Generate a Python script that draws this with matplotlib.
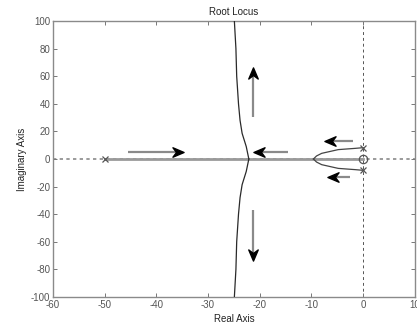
import numpy as np
import matplotlib
matplotlib.use("Agg")
import matplotlib.pyplot as plt
from matplotlib.markers import MarkerStyle
from matplotlib.path import Path
from matplotlib.transforms import Affine2D

plt.rcParams['font.family'] = ['Liberation Sans', 'DejaVu Sans']

# ---- data ----
poles_re = [-50.0, 0.0, 0.0]
poles_im = [0.0, 8.2, -8.2]
zeros_re = [0.0]
zeros_im = [0.0]

# breakaway branch (upper half), mirrored for lower half
branch_re = [-22.1, -22.6, -23.4, -23.8, -24.1, -24.45, -24.6, -24.75, -24.9]
branch_im = [0.0, 9.0, 18.6, 28.0, 40.0, 60.0, 80.0, 90.0, 100.0]

# loop from complex poles to real axis (upper half)
loop_re = [0.0, -1.55, -4.8, -8.0, -9.0, -9.6]
loop_im = [8.2, 7.7, 6.8, 4.1, 2.2, 0.0]

# real-axis locus segment
real_seg = [-50.0, 0.0]

# arrows: (tail_x, tail_y, head_x, head_y)
arrows = [
    (-21.3, 30.7, -21.3, 62.0),
    (-21.2, -37.0, -21.2, -69.6),
    (-45.4, 4.9, -35.7, 4.9),
    (-14.6, 5.0, -20.1, 5.0),
    (-2.0, 13.3, -6.4, 13.3),
    (-2.5, -12.8, -5.75, -12.8),
]

xlim = (-60, 10)
ylim = (-100, 100)
xticks = [-60, -50, -40, -30, -20, -10, 0, 10]
yticks = [-100, -80, -60, -40, -20, 0, 20, 40, 60, 80, 100]

fig = plt.figure(figsize=(4.17, 3.31), dpi=100)
ax = fig.add_axes([53 / 417, 34 / 331, (414.7 - 53) / 417, 276 / 331])

# axis reference lines
ax.axhline(0, color='#8a8a8a', lw=1.2, ls=(0, (2, 2)), zorder=1)
ax.axvline(0, color='#555555', lw=0.7, ls=(0, (3, 3)), zorder=1)

# real axis locus
ax.plot(real_seg, [0, 0], color='#9a9a9a', lw=2.0, zorder=2)

# branches
br = np.array(branch_re)
bi = np.array(branch_im)
ax.plot(br, bi, color='#2a2a2a', lw=0.9, zorder=3)
ax.plot(br, -bi, color='#2a2a2a', lw=0.9, zorder=3)
lr = np.array(loop_re)
li = np.array(loop_im)
ax.plot(lr, li, color='#444444', lw=0.9, zorder=3)
ax.plot(lr, -li, color='#444444', lw=0.9, zorder=3)

# poles and zeros
ax.plot(poles_re, poles_im, ls='none', marker='x', ms=4, mew=0.9, color='#555555', zorder=4)
ax.plot(zeros_re, zeros_im, ls='none', marker='o', ms=6, mew=0.9, mfc='none', color='#555555', zorder=4)

# arrows
head = Path([(1.0, 0.0), (-1.0, 0.85), (-0.35, 0.0), (-1.0, -0.85), (1.0, 0.0)],
            [Path.MOVETO, Path.LINETO, Path.LINETO, Path.LINETO, Path.CLOSEPOLY])
for tx, ty, hx, hy in arrows:
    ax.plot([tx, hx], [ty, hy], color='#8a8a8a', lw=1.6, solid_capstyle='butt', zorder=5)
    # orientation in display space
    p0 = ax.transData.transform((tx, ty))
    p1 = ax.transData.transform((hx, hy))
    ang = np.degrees(np.arctan2(p1[1] - p0[1], p1[0] - p0[0]))
    m = MarkerStyle(head, transform=Affine2D().rotate_deg(ang))
    off = 5.0
    dx, dy = p1 - p0
    n = np.hypot(dx, dy)
    pc = p1 - np.array([dx, dy]) / n * off
    cx, cy = ax.transData.inverted().transform(pc)
    ax.plot([cx], [cy], ls='none', marker=m, ms=8, color='black', mec='black', zorder=6)

ax.set_xlim(*xlim)
ax.set_ylim(*ylim)
ax.set_xticks(xticks)
ax.set_yticks(yticks)
ax.set_xticklabels([str(t) for t in xticks])
ax.set_yticklabels([str(t) for t in yticks])
ax.tick_params(direction='in', length=3, width=0.7, colors='#777777', labelcolor='#555555',
               labelsize=7, top=True, right=True, pad=2)
for s in ax.spines.values():
    s.set_color('#8a8a8a')
    s.set_linewidth(1.0)

ax.set_title('Root Locus', fontsize=7, color='#222222', pad=4)
ax.set_xlabel('Real Axis', fontsize=7, color='#222222', labelpad=3)
ax.set_ylabel('Imaginary Axis', fontsize=7, color='#222222', labelpad=3)

fig.savefig('out.png', dpi=100)
